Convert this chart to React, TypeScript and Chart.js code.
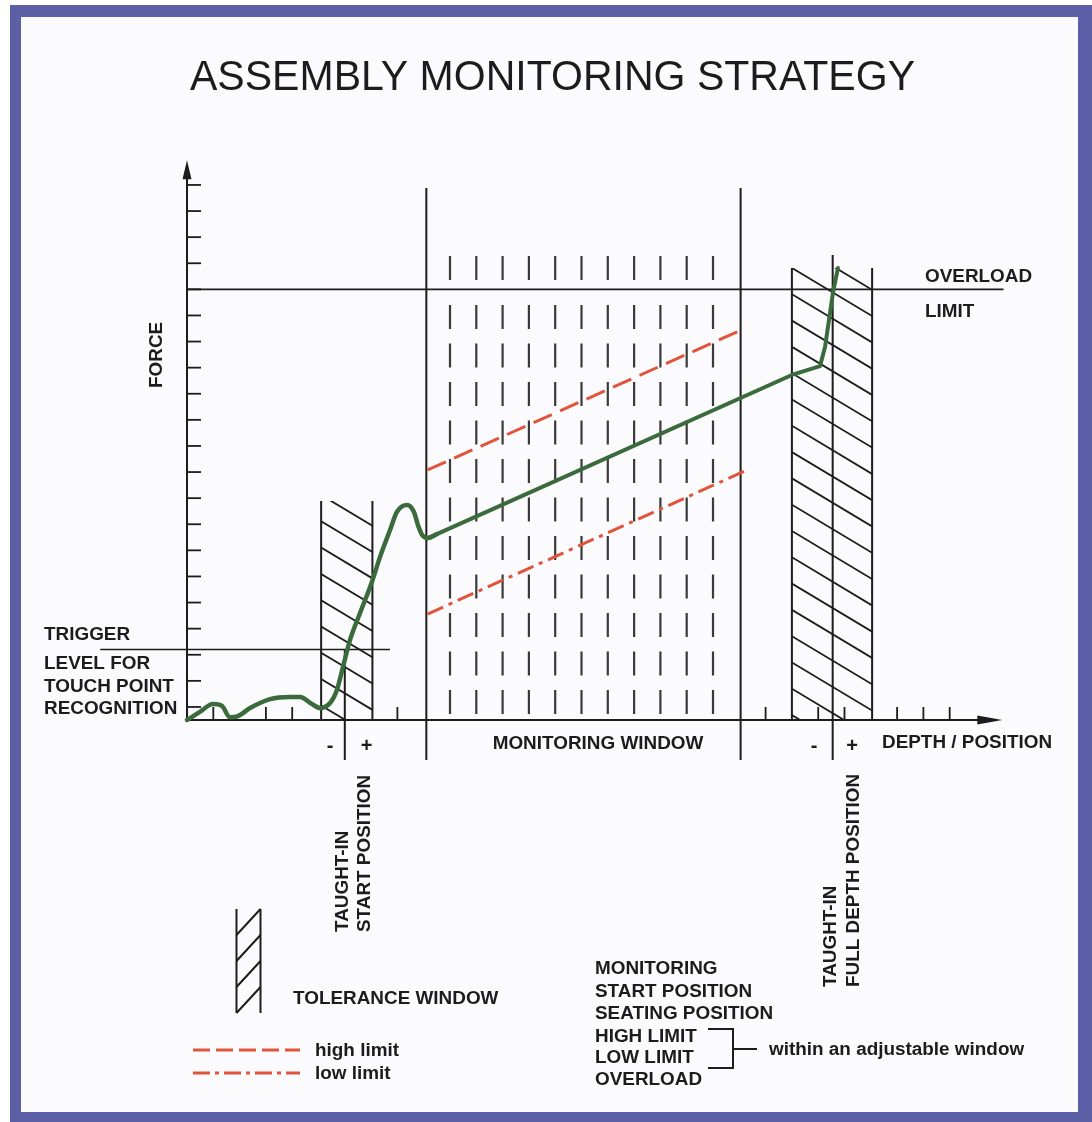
import { useEffect, useRef } from "react";
import { Chart, registerables } from "chart.js";

Chart.register(...registerables);

const CANVAS_W = 1092;
const CANVAS_H = 1122;

// ---------------- data (diagram units: depth / force) ----------------
const X_MAX = 31;
const Y_MAX = 22;
const yAxisTop = 21.45;
const xTickPositions = [1, 3, 4, 8, 22, 24, 25, 27, 28, 29];
const yTickPositions = [0.5, 1.5, 2.5, 3.5, 4.5, 5.5, 6.5, 7.5, 8.5, 9.5, 10.5, 11.5, 12.5, 13.5, 14.5, 15.5, 16.5, 17.5, 18.5, 19.5, 20.5];
const monitoringColumns = [10, 11, 12, 13, 14, 15, 16, 17, 18, 19, 20];
const columnTop = 17.78;
const columnFirstDashEnd = 16.86;
const columnDashStart = 15.9;

// force curve: touch point phase (smooth)
const curveX = [0, 0.49, 0.99, 1.33, 1.63, 1.94, 2.4, 3.16, 3.92, 4.3, 4.75, 5.06, 5.44, 5.7, 5.93, 6.2, 6.58, 7.03, 7.34, 7.72, 7.98, 8.37, 8.63, 8.78, 8.94, 9.16, 9.5];
const curveY = [0, 0.31, 0.61, 0.54, 0.11, 0.15, 0.46, 0.8, 0.88, 0.88, 0.61, 0.46, 0.65, 1.15, 2.03, 3.07, 4.1, 5.29, 6.25, 7.28, 7.97, 8.24, 7.97, 7.47, 7.09, 6.97, 7.12];
// force curve: press-in and seating phase
const pressX = [9.16, 23.0, 24.07, 24.26, 24.56, 24.75];
const pressY = [6.97, 13.22, 13.56, 14.29, 16.36, 17.32];

const highLimitX = [9.15, 21.2];
const highLimitY = [9.58, 15.0];
const lowLimitX = [9.15, 21.3];
const lowLimitY = [4.06, 9.58];

const overloadLevel = 16.5;
const overloadEnd = 31.05;
const triggerLevel = 2.7;
const triggerFrom = -3.3;
const triggerTo = 7.72;
const monitoringWindow = [9.1, 21.05];
const windowTop = 20.38;
const belowAxis = -1.53;
const startPosition = 6;
const startTolerance = [5.1, 7.05];
const startToleranceTop = 8.39;
const fullDepthPosition = 24.55;
const fullDepthTop = 17.82;
const fullDepthTolerance = [23, 26.05];
const fullDepthToleranceTop = 17.32;

// ---------------- texts ----------------
const titleText = "ASSEMBLY MONITORING STRATEGY";
const yAxisLabel = "FORCE";
const xAxisLabel = "DEPTH / POSITION";
const triggerLabel = ["TRIGGER", "LEVEL FOR", "TOUCH POINT", "RECOGNITION"];
const overloadLabel = ["OVERLOAD", "LIMIT"];
const windowLabel = "MONITORING WINDOW";
const startLabel = ["TAUGHT-IN", "START POSITION"];
const fullDepthLabel = ["TAUGHT-IN", "FULL DEPTH POSITION"];
const toleranceLabel = "TOLERANCE WINDOW";
const highLimitLabel = "high limit";
const lowLimitLabel = "low limit";
const monitoredItems = ["MONITORING", "START POSITION", "SEATING POSITION", "HIGH LIMIT", "LOW LIMIT", "OVERLOAD"];
const adjustableNote = "within an adjustable window";

// ---------------- styles ----------------
const UNIT_X = 26.3;
const UNIT_Y = 26.1;
const ORIGIN_X = 187;
const ORIGIN_Y = 720;
const INK = "#1c1c1c";
const GREEN = "#3b6b3c";
const RED = "#e0543c";
const FONT = '"Liberation Sans", Arial, Helvetica, sans-serif';
const BOLD = 18;
const STRETCH = 1.05;

const pts = (xs: number[], ys: number[]) => xs.map((x, i) => ({ x, y: ys[i] }));

function drawText(
  ctx: CanvasRenderingContext2D,
  text: string,
  x: number,
  y: number,
  o: { size?: number; weight?: string; align?: CanvasTextAlign; width?: number; stretch?: number; rotate?: boolean } = {}
) {
  const size = o.size ?? BOLD;
  ctx.save();
  ctx.font = `${o.weight ?? "bold"} ${size}px ${FONT}`;
  const natural = ctx.measureText(text).width;
  const sx = o.width ? o.width / natural : o.stretch ?? STRETCH;
  ctx.translate(x, y);
  if (o.rotate) ctx.rotate(-Math.PI / 2);
  ctx.scale(sx, 1);
  ctx.textAlign = o.align ?? "left";
  ctx.textBaseline = "alphabetic";
  ctx.fillStyle = INK;
  ctx.fillText(text, 0, 0);
  ctx.restore();
}
// baseline from a cap-centre y
const bl = (cy: number, size = BOLD) => cy + 0.358 * size;

function seg(ctx: CanvasRenderingContext2D, x1: number, y1: number, x2: number, y2: number) {
  ctx.beginPath();
  ctx.moveTo(x1, y1);
  ctx.lineTo(x2, y2);
  ctx.stroke();
}

function hatch(ctx: CanvasRenderingContext2D, left: number, right: number, top: number, bottom: number, phase: number, spacing: number, slope: number, dir: 1 | -1) {
  ctx.save();
  ctx.beginPath();
  ctx.rect(left, top, right - left, bottom - top);
  ctx.clip();
  const w = right - left;
  for (let y = top + phase - spacing * 4; y < bottom + spacing; y += spacing) {
    if (dir === 1) seg(ctx, left, y, right, y + w * slope);
    else seg(ctx, left, y + w * slope, right, y);
  }
  ctx.restore();
  ctx.lineWidth = 2;
  seg(ctx, left, top, left, bottom);
  seg(ctx, right, top, right, bottom);
}

const diagramPlugin = {
  id: "diagram",
  beforeDraw(chart: any) {
    const ctx: CanvasRenderingContext2D = chart.ctx;
    ctx.save();
    ctx.fillStyle = "#ffffff";
    ctx.fillRect(0, 0, CANVAS_W, CANVAS_H);
    ctx.fillStyle = "#5b5fa6";
    ctx.fillRect(10, 5, CANVAS_W - 10, CANVAS_H - 5);
    ctx.fillStyle = "#fbfbfd";
    ctx.fillRect(21, 17, 1078 - 21, 1112 - 17);
    ctx.restore();
  },
  beforeDatasetsDraw(chart: any) {
    const ctx: CanvasRenderingContext2D = chart.ctx;
    const xs = chart.scales.x;
    const ys = chart.scales.y;
    const px = (v: number) => xs.getPixelForValue(v);
    const py = (v: number) => ys.getPixelForValue(v);
    ctx.save();
    ctx.strokeStyle = INK;
    ctx.fillStyle = INK;
    ctx.lineCap = "butt";

    // tolerance windows
    ctx.lineWidth = 1.8;
    hatch(ctx, px(startTolerance[0]), px(startTolerance[1]), py(startToleranceTop), py(0), -6, 26.3, 0.6, 1);
    ctx.lineWidth = 1.8;
    hatch(ctx, px(fullDepthTolerance[0]), px(fullDepthTolerance[1]), py(fullDepthToleranceTop), py(0), 0, 26.3, 0.6, 1);

    // axes
    const x0 = px(0);
    const y0 = py(0);
    ctx.lineWidth = 2;
    const yTip = py(yAxisTop);
    seg(ctx, x0, y0, x0, yTip + 10);
    ctx.beginPath();
    ctx.moveTo(x0, yTip);
    ctx.lineTo(x0 - 4.5, yTip + 19);
    ctx.lineTo(x0 + 4.5, yTip + 19);
    ctx.closePath();
    ctx.fill();
    const xTip = px(X_MAX);
    seg(ctx, x0, y0, xTip - 10, y0);
    ctx.beginPath();
    ctx.moveTo(xTip, y0);
    ctx.lineTo(xTip - 25, y0 - 4.5);
    ctx.lineTo(xTip - 25, y0 + 4.5);
    ctx.closePath();
    ctx.fill();
    ctx.lineWidth = 1.8;
    yTickPositions.forEach((t) => seg(ctx, x0, py(t), x0 + 14, py(t)));
    xTickPositions.forEach((t) => seg(ctx, px(t), y0, px(t), y0 - 13));
    ctx.restore();
  },
  afterDraw(chart: any) {
    const ctx: CanvasRenderingContext2D = chart.ctx;
    ctx.save();
    // title
    drawText(ctx, titleText, 552.5, 90, { size: 42, weight: "normal", align: "center", width: 725 });
    // axis labels
    drawText(ctx, yAxisLabel, bl(155.5), 388, { rotate: true });
    drawText(ctx, xAxisLabel, 882, bl(742));
    // trigger
    [634, 663, 686, 708].forEach((cy, i) => drawText(ctx, triggerLabel[i], 44, bl(cy)));
    // overload
    [276, 311].forEach((cy, i) => drawText(ctx, overloadLabel[i], 925, bl(cy)));
    // window
    drawText(ctx, windowLabel, 598, bl(743), { align: "center" });
    // +/- signs
    [["-", 330], ["+", 366.5], ["-", 814], ["+", 852]].forEach(([s, x]) =>
      drawText(ctx, s as string, x as number, bl(745, 20), { size: 20, align: "center", stretch: 1 })
    );
    // rotated labels
    drawText(ctx, startLabel[0], bl(342), 932, { rotate: true });
    drawText(ctx, startLabel[1], bl(364), 932, { rotate: true });
    drawText(ctx, fullDepthLabel[0], bl(830), 987, { rotate: true });
    drawText(ctx, fullDepthLabel[1], bl(853), 987, { rotate: true });

    // legend: tolerance window
    ctx.strokeStyle = INK;
    ctx.lineWidth = 2;
    seg(ctx, 236.5, 909, 236.5, 1013);
    seg(ctx, 260.5, 909, 260.5, 1013);
    [909, 935, 961, 987].forEach((y) => seg(ctx, 236.5, y + 26, 260.5, y));
    drawText(ctx, toleranceLabel, 293, bl(998));

    // legend: limits
    ctx.strokeStyle = RED;
    ctx.lineWidth = 3;
    ctx.setLineDash([17, 6]);
    seg(ctx, 193, 1050, 300, 1050);
    ctx.setLineDash([17, 5, 4, 5]);
    seg(ctx, 193, 1073, 300, 1073);
    ctx.setLineDash([]);
    drawText(ctx, highLimitLabel, 315, 1056);
    drawText(ctx, lowLimitLabel, 315, 1079);

    // monitored items
    [968, 990.7, 1012.7, 1036, 1057, 1079].forEach((cy, i) => drawText(ctx, monitoredItems[i], 595, bl(cy)));
    ctx.strokeStyle = INK;
    ctx.lineWidth = 2;
    ctx.beginPath();
    ctx.moveTo(708, 1029);
    ctx.lineTo(733, 1029);
    ctx.lineTo(733, 1068);
    ctx.lineTo(708, 1068);
    ctx.stroke();
    seg(ctx, 733, 1049, 757, 1049);
    drawText(ctx, adjustableNote, 769, 1055);
    ctx.restore();
  },
};

export default function App() {
  const ref = useRef<HTMLCanvasElement>(null);
  useEffect(() => {
    if (!ref.current) return;
    const base = { pointRadius: 0, fill: false, tension: 0, clip: false as any, borderColor: INK, borderWidth: 2 };
    const datasets: any[] = [
      { ...base, data: pts(curveX, curveY), borderColor: GREEN, borderWidth: 4.5, cubicInterpolationMode: "monotone", borderCapStyle: "round", borderJoinStyle: "round" },
      { ...base, data: pts(pressX, pressY), borderColor: GREEN, borderWidth: 4, borderCapStyle: "round", borderJoinStyle: "round" },
      { ...base, data: pts(highLimitX, highLimitY), borderColor: RED, borderWidth: 3, borderDash: [20, 9] },
      { ...base, data: pts(lowLimitX, lowLimitY), borderColor: RED, borderWidth: 3, borderDash: [17, 6, 4, 6] },
      { ...base, data: [{ x: 0, y: overloadLevel }, { x: overloadEnd, y: overloadLevel }], borderWidth: 1.6 },
      { ...base, data: [{ x: triggerFrom, y: triggerLevel }, { x: triggerTo, y: triggerLevel }], borderWidth: 1.6 },
      ...monitoringWindow.map((x) => ({ ...base, data: [{ x, y: windowTop }, { x, y: belowAxis }], borderWidth: 2 })),
      { ...base, data: [{ x: startPosition, y: triggerLevel }, { x: startPosition, y: belowAxis }], borderWidth: 2 },
      { ...base, data: [{ x: fullDepthPosition, y: fullDepthTop }, { x: fullDepthPosition, y: belowAxis }], borderWidth: 2 },
      ...monitoringColumns.map((x) => ({
        ...base,
        data: [
          { x, y: columnTop },
          { x, y: columnFirstDashEnd },
          { x, y: null },
          { x, y: columnDashStart },
          { x, y: 0 },
        ],
        spanGaps: false,
        borderColor: "#3a3a3a",
        borderWidth: 2.2,
        borderDash: [24, 14.5],
      })),
    ];
    const chart = new Chart(ref.current, {
      type: "line",
      data: { datasets },
      options: {
        responsive: false,
        animation: false,
        devicePixelRatio: 1,
        events: [],
        layout: {
          padding: {
            left: ORIGIN_X,
            right: CANVAS_W - ORIGIN_X - X_MAX * UNIT_X,
            top: ORIGIN_Y - Y_MAX * UNIT_Y,
            bottom: CANVAS_H - ORIGIN_Y,
          },
        },
        scales: {
          x: { type: "linear", min: 0, max: X_MAX, display: false },
          y: { type: "linear", min: 0, max: Y_MAX, display: false },
        },
        plugins: { legend: { display: false }, tooltip: { enabled: false }, title: { display: false } },
      },
      plugins: [diagramPlugin],
    } as any);
    return () => chart.destroy();
  }, []);
  return (
    <div style={{ position: "absolute", left: 0, top: 0, width: CANVAS_W, height: CANVAS_H }}>
      <canvas ref={ref} width={CANVAS_W} height={CANVAS_H} style={{ display: "block", width: CANVAS_W, height: CANVAS_H }} />
    </div>
  );
}
